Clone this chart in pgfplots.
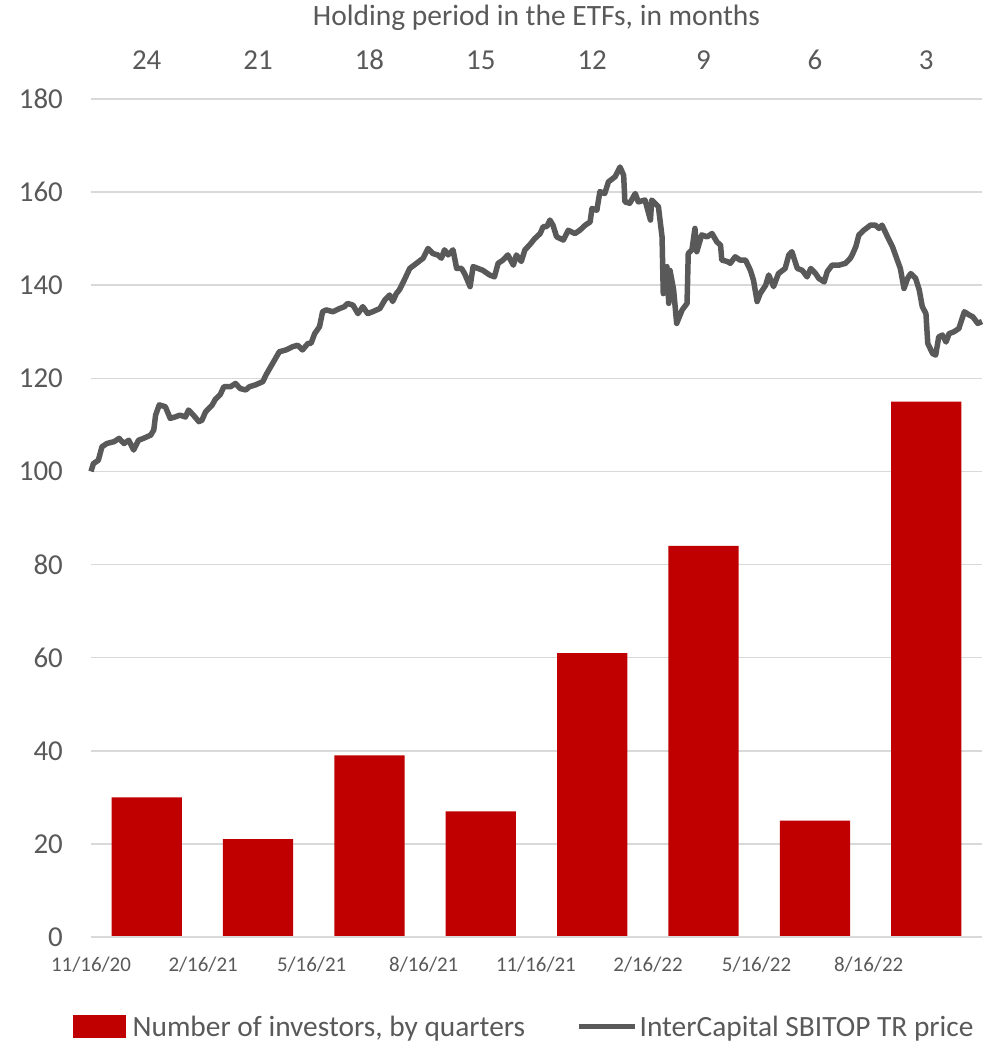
\documentclass[border=0pt]{standalone}
\usepackage{fontspec}
\setmainfont{Carlito}
\usepackage{pgfplots}
\pgfplotsset{compat=1.18}
\definecolor{barred}{HTML}{C00000}
\definecolor{linegray}{HTML}{595959}
\definecolor{txt}{HTML}{595959}
\definecolor{gridc}{HTML}{D9D9D9}
\pgfplotsset{
 barlegend/.style={legend image code/.code={\fill[barred] (0bp,-11bp) rectangle (52bp,11bp);}},
 linelegend/.style={legend image code/.code={\draw[linegray, line width=5.5bp] (0bp,0bp) -- (56bp,0bp);}},
}
\begin{document}
\begin{tikzpicture}
\useasboundingbox (-91bp,-108bp) rectangle (895bp,937bp);
\begin{axis}[
 at={(0,0)}, anchor=south west,
 scale only axis, width=891bp, height=838bp,
 xmin=-0.5, xmax=7.5, ymin=0, ymax=180,
 ytick={0,20,...,180},
 xtick={0,...,7}, xticklabels={24,21,18,15,12,9,6,3},
 xticklabel pos=upper, ytick pos=left,
 major tick length=0pt,
 axis line style={draw=none},
 ymajorgrids, grid style={gridc, line width=1.5bp},
 tick label style={font=\fontsize{29}{31}\selectfont, text=txt},
 yticklabel style={anchor=east, inner sep=0pt, xshift=-28bp},
 xticklabel style={anchor=base, inner sep=0pt, yshift=29bp},
 xlabel={Holding period in the ETFs, in months},
 xlabel style={at={(axis description cs:0.5,1)}, anchor=base, yshift=73bp, inner sep=0pt, font=\fontsize{29.6}{31}\selectfont, text=txt},
 /pgf/number format/assume math mode=true,
]
\addplot[ybar, bar width=0.63, fill=barred, draw=none] coordinates {(0,30)(1,21)(2,39)(3,27)(4,61)(5,84)(6,25)(7,115)};
\end{axis}
\begin{axis}[
 at={(0,0)}, anchor=south west,
 scale only axis, width=891bp, height=838bp,
 xmin=0, xmax=731, ymin=0, ymax=180,
 hide y axis, axis x line*=bottom,
 x axis line style={gridc, line width=1.5bp, -},
 xtick={0,92,181,273,365,457,546,638},
 xticklabels={11/16/20,2/16/21,5/16/21,8/16/21,11/16/21,2/16/22,5/16/22,8/16/22},
 major tick length=0pt,
 xticklabel style={font=\fontsize{21}{23}\selectfont, text=txt, anchor=base, inner sep=0pt, yshift=-34bp},
 clip=false,
 legend style={at={(-0.0202,-0.107)}, anchor=west, draw=none, fill=none, legend columns=2,
   inner sep=0pt, nodes={inner sep=0pt},
   font=\fontsize{29.5}{31}\selectfont, text=txt,
   /tikz/column 1/.style={column sep=7bp},
   /tikz/column 2/.style={column sep=51bp},
   /tikz/column 3/.style={column sep=2bp}},
]
\addlegendimage{barlegend}
\addlegendentry{Number of investors, by quarters}
\addplot[linegray, line width=5.5bp, line join=round, linelegend] coordinates {
(0,100)(2,101.7)(6,102.4)(9,105.3)(13,106)(19,106.4)(23,107.1)(27,106)(31,106.7)(35,104.6)(39,106.7)(43,107.1)(49,107.8)(51.5,108.9)(53,112.1)(56,114.3)(61,113.9)(65,111.4)(69,111.7)(73,112.1)(77.5,111.7)(80,113.2)(84,112.1)(88.5,110.7)(91,111)(94,112.8)(99.5,114.3)(102,115.5)(106,116.5)(109,118.2)(114.5,118.2)(118.5,118.9)(122.5,117.8)(127,117.5)(130,118.2)(135,118.6)(141,119.3)(143.5,120.7)(149,123.2)(154.5,125.7)(160,126.1)(165.5,126.8)(169.5,127.1)(173.5,126.1)(178,127.5)(180.5,127.5)(183.5,129.6)(187.5,131.1)(190,134.3)(193,134.7)(198.5,134.3)(204,135)(208,135.4)(210.5,136.1)(215,135.7)(219,133.9)(223,135.4)(227,133.9)(231,134.3)(237,135)(241,136.8)(245,137.9)(247.5,136.5)(250.5,138.2)(253,139)(257,141.1)(261.5,143.6)(267,144.7)(272.5,145.8)(276.5,147.9)(280.5,146.8)(284.5,146.5)(287.5,145.8)(290,147.6)(293,146.5)(297,147.6)(300,143.6)(304,143.6)(306.5,142.5)(311,139.7)(313.5,144)(317.5,143.6)(321.5,143.2)(327,142.2)(331,141.8)(334,144.7)(338,145.4)(342,146.5)(346.5,144.3)(349,146.5)(353,145.1)(356,147.6)(360,148.7)(364,150)(368.5,151.1)(371,152.6)(374,152.6)(376.5,154)(379,152.9)(382,150.4)(387.5,149.7)(391.5,151.8)(397,151.1)(401,151.8)(405.5,152.9)(409.5,153.6)(411,156.5)(415,156.1)(417.5,160.1)(421.5,159.7)(424.5,162.2)(430,163.3)(434,165.4)(437,163.6)(438,157.9)(442,157.6)(446.5,159.7)(449,157.9)(454.5,158.3)(459,154)(460,158.3)(465.5,156.9)(468.5,150.4)(469.5,138.2)(472.5,144)(474,136.1)(475,143.2)(478,139)(480.5,131.8)(485,134.7)(489,136.1)(490,146.8)(493,147.6)(495.5,152.2)(497,147.2)(501,150.8)(505.5,150.4)(509.5,151.1)(513.5,149.3)(516.5,148.6)(517.5,145.4)(522,145.1)(524.5,144.7)(528.5,146.1)(532.5,145.4)(537,145.4)(541,143.2)(543.5,141.1)(546.5,136.5)(549,138.2)(553.5,140)(556,142.2)(560,139.7)(564,142.5)(569.5,143.6)(572.5,146.5)(575,147.2)(579.5,143.6)(583.5,143.2)(587.5,141.8)(590.5,143.6)(594.5,142.5)(597,141.5)(601.5,140.7)(604,142.9)(608,144.3)(613.5,144.3)(619,144.7)(623,145.8)(624.5,146.5)(627.5,148.3)(630,150.8)(634,151.8)(639.5,152.9)(643.5,152.9)(646.5,152.2)(649,152.9)(653.5,150.4)(657.5,148.3)(661.5,145.4)(664,143.6)(667,139.3)(670,141.5)(672.5,142.5)(676.5,141.5)(679.5,139)(682,135.4)(685,133.9)(686.5,127.5)(690.5,125.3)(693,125)(695.5,128.9)(698.5,129.3)(701.5,127.8)(704,129.6)(708,130)(712,130.7)(716.5,134.3)(720.5,133.6)(723.5,133.2)(727.5,131.8)(731,132.2)
};
\addlegendentry{InterCapital SBITOP TR price}
\end{axis}
\end{tikzpicture}
\end{document}
